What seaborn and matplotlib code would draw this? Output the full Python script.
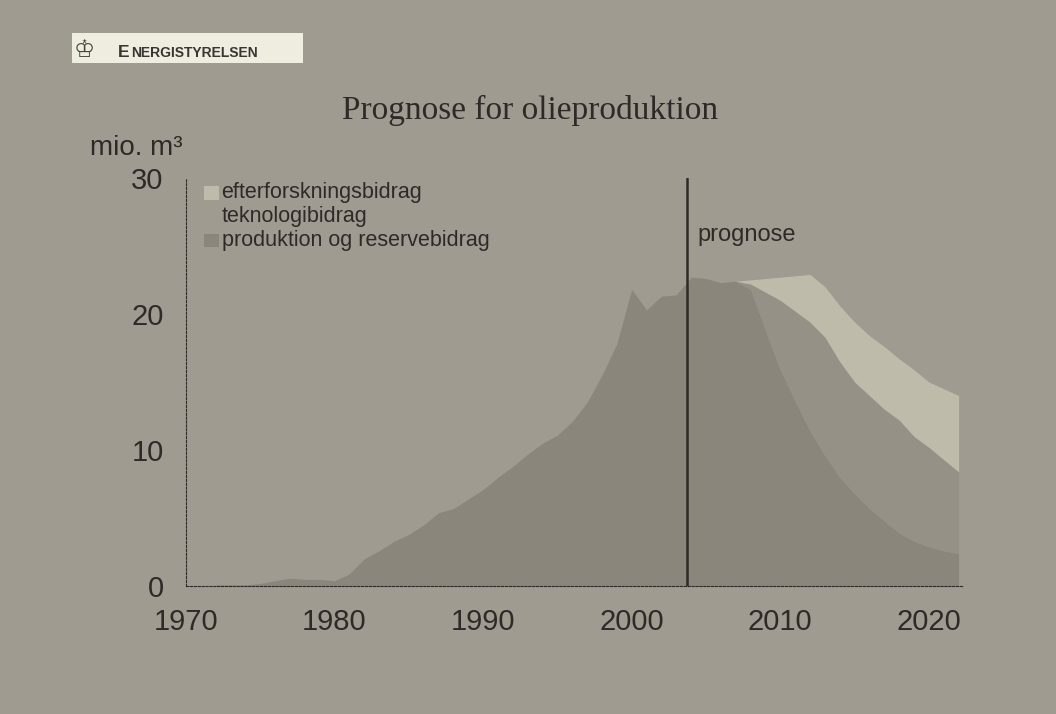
import numpy as np
import pandas as pd
import matplotlib
matplotlib.use("Agg")
import matplotlib.pyplot as plt
import seaborn as sns

years = list(range(1972, 2023))
produktion = [0.1, 0.1, 0.1, 0.2, 0.4, 0.6, 0.5, 0.5, 0.4, 0.9,
              2.0, 2.6, 3.3, 3.8, 4.5, 5.4, 5.7, 6.4, 7.1, 8.0,
              8.8, 9.7, 10.5, 11.1, 12.1, 13.5, 15.5, 17.8, 21.8, 20.3,
              21.3, 21.4, 22.7, 22.6, 22.3, 22.4, 21.8, 18.8, 15.9, 13.6,
              11.4, 9.6, 8.0, 6.8, 5.7, 4.8, 3.9, 3.3, 2.9, 2.6, 2.4]
# cumulative top of technology contribution (production + teknologi)
tekn_top = {2007: 22.4, 2008: 22.2, 2009: 21.6, 2010: 21.0, 2011: 20.2,
            2012: 19.4, 2013: 18.3, 2014: 16.5, 2015: 15.0, 2016: 14.0,
            2017: 13.0, 2018: 12.2, 2019: 11.0, 2020: 10.2, 2021: 9.3, 2022: 8.4}
# cumulative top of exploration contribution
eft_top = {2007: 22.4, 2008: 22.5, 2009: 22.6, 2010: 22.7, 2011: 22.8,
           2012: 22.9, 2013: 22.0, 2014: 20.6, 2015: 19.4, 2016: 18.4,
           2017: 17.6, 2018: 16.7, 2019: 15.9, 2020: 15.0, 2021: 14.5, 2022: 14.0}
labels = ["efterforskningsbidrag", "teknologibidrag", "produktion og reservebidrag"]
xticks = [1970, 1980, 1990, 2000, 2010, 2020]
yticks = [0, 10, 20, 30]
prognose_year = 2003.7

df = pd.DataFrame({"year": years, "produktion": produktion})
df["teknologi"] = [max(tekn_top.get(y, p) - p, 0) for y, p in zip(years, produktion)]
df["efterforskning"] = [max(eft_top.get(y, p) - tekn_top.get(y, p), 0) if y in eft_top else 0
                        for y, p in zip(years, produktion)]

BG = "#a09b90"
C_DARK = "#8b867c"
C_TECH = "#969187"
C_LIGHT = "#bfbbab"
TXT = "#2e2a28"

sns.set_theme(style="white")
plt.rcParams["font.family"] = ["Liberation Sans", "DejaVu Sans"]

fig = plt.figure(figsize=(10.56, 7.14), dpi=100, facecolor=BG)
ax = fig.add_axes([0.176, 0.179, 0.736, 0.572])
ax.set_facecolor(BG)

ax.stackplot(df["year"], df["produktion"], df["teknologi"], df["efterforskning"],
             colors=[C_DARK, C_TECH, C_LIGHT], linewidth=0)

ax.axvline(prognose_year, color=TXT, lw=1.8, ymin=0, ymax=1)
ax.text(2004.4, 25.8, "prognose", fontsize=17, color=TXT, va="center", ha="left")

ax.set_xlim(1970, 2022.3)
ax.set_ylim(0, 30)
ax.set_xticks(xticks)
ax.set_yticks(yticks)
ax.tick_params(axis="both", labelsize=21, colors=TXT, length=4, width=0.8,
               direction="out", pad=12)
ax.tick_params(axis="x", pad=12)
for s in ["top", "right"]:
    ax.spines[s].set_visible(False)
for s in ["left", "bottom"]:
    ax.spines[s].set_color(TXT)
    ax.spines[s].set_linewidth(0.8)
    ax.spines[s].set_linestyle((0, (2, 1.5)))
ax.grid(False)

# legend (manual, as in reference)
leg_items = [(labels[0], C_LIGHT), (labels[1], None), (labels[2], C_DARK)]
for i, (lab, col) in enumerate(leg_items):
    yy = 28.9 - i * 1.75
    if col is not None:
        ax.add_patch(plt.Rectangle((1971.25, yy - 0.5), 1.0, 1.0, color=col, lw=0,
                                   transform=ax.transData, clip_on=False))
    ax.text(1972.4, yy, lab, fontsize=15.5, color=TXT, va="center", ha="left")

fig.text(0.502, 0.845, "Prognose for olieproduktion", fontsize=24,
         family=["Liberation Serif", "DejaVu Serif"], color=TXT, ha="center", va="center")
fig.text(0.085, 0.793, "mio. m³", fontsize=20, color=TXT, ha="left", va="center")

# logo
fig.patches.append(plt.Rectangle((72 / 1056, 1 - 63 / 714), 231 / 1056, 30 / 714,
                                 transform=fig.transFigure, color="#efede0", lw=0))
fig.text(74 / 1056, 1 - 50 / 714, "♔", fontsize=17, color="#4a4540",
         family=["DejaVu Sans"], ha="left", va="center")
fig.text(118 / 1056, 1 - 57 / 714, "E", fontsize=12.5, fontweight="bold",
         color="#3a3533", ha="left", va="baseline")
fig.text(131 / 1056, 1 - 57 / 714, "NERGISTYRELSEN", fontsize=10, fontweight="bold",
         color="#3a3533", ha="left", va="baseline")

fig.savefig("out.png", dpi=100, facecolor=BG)
